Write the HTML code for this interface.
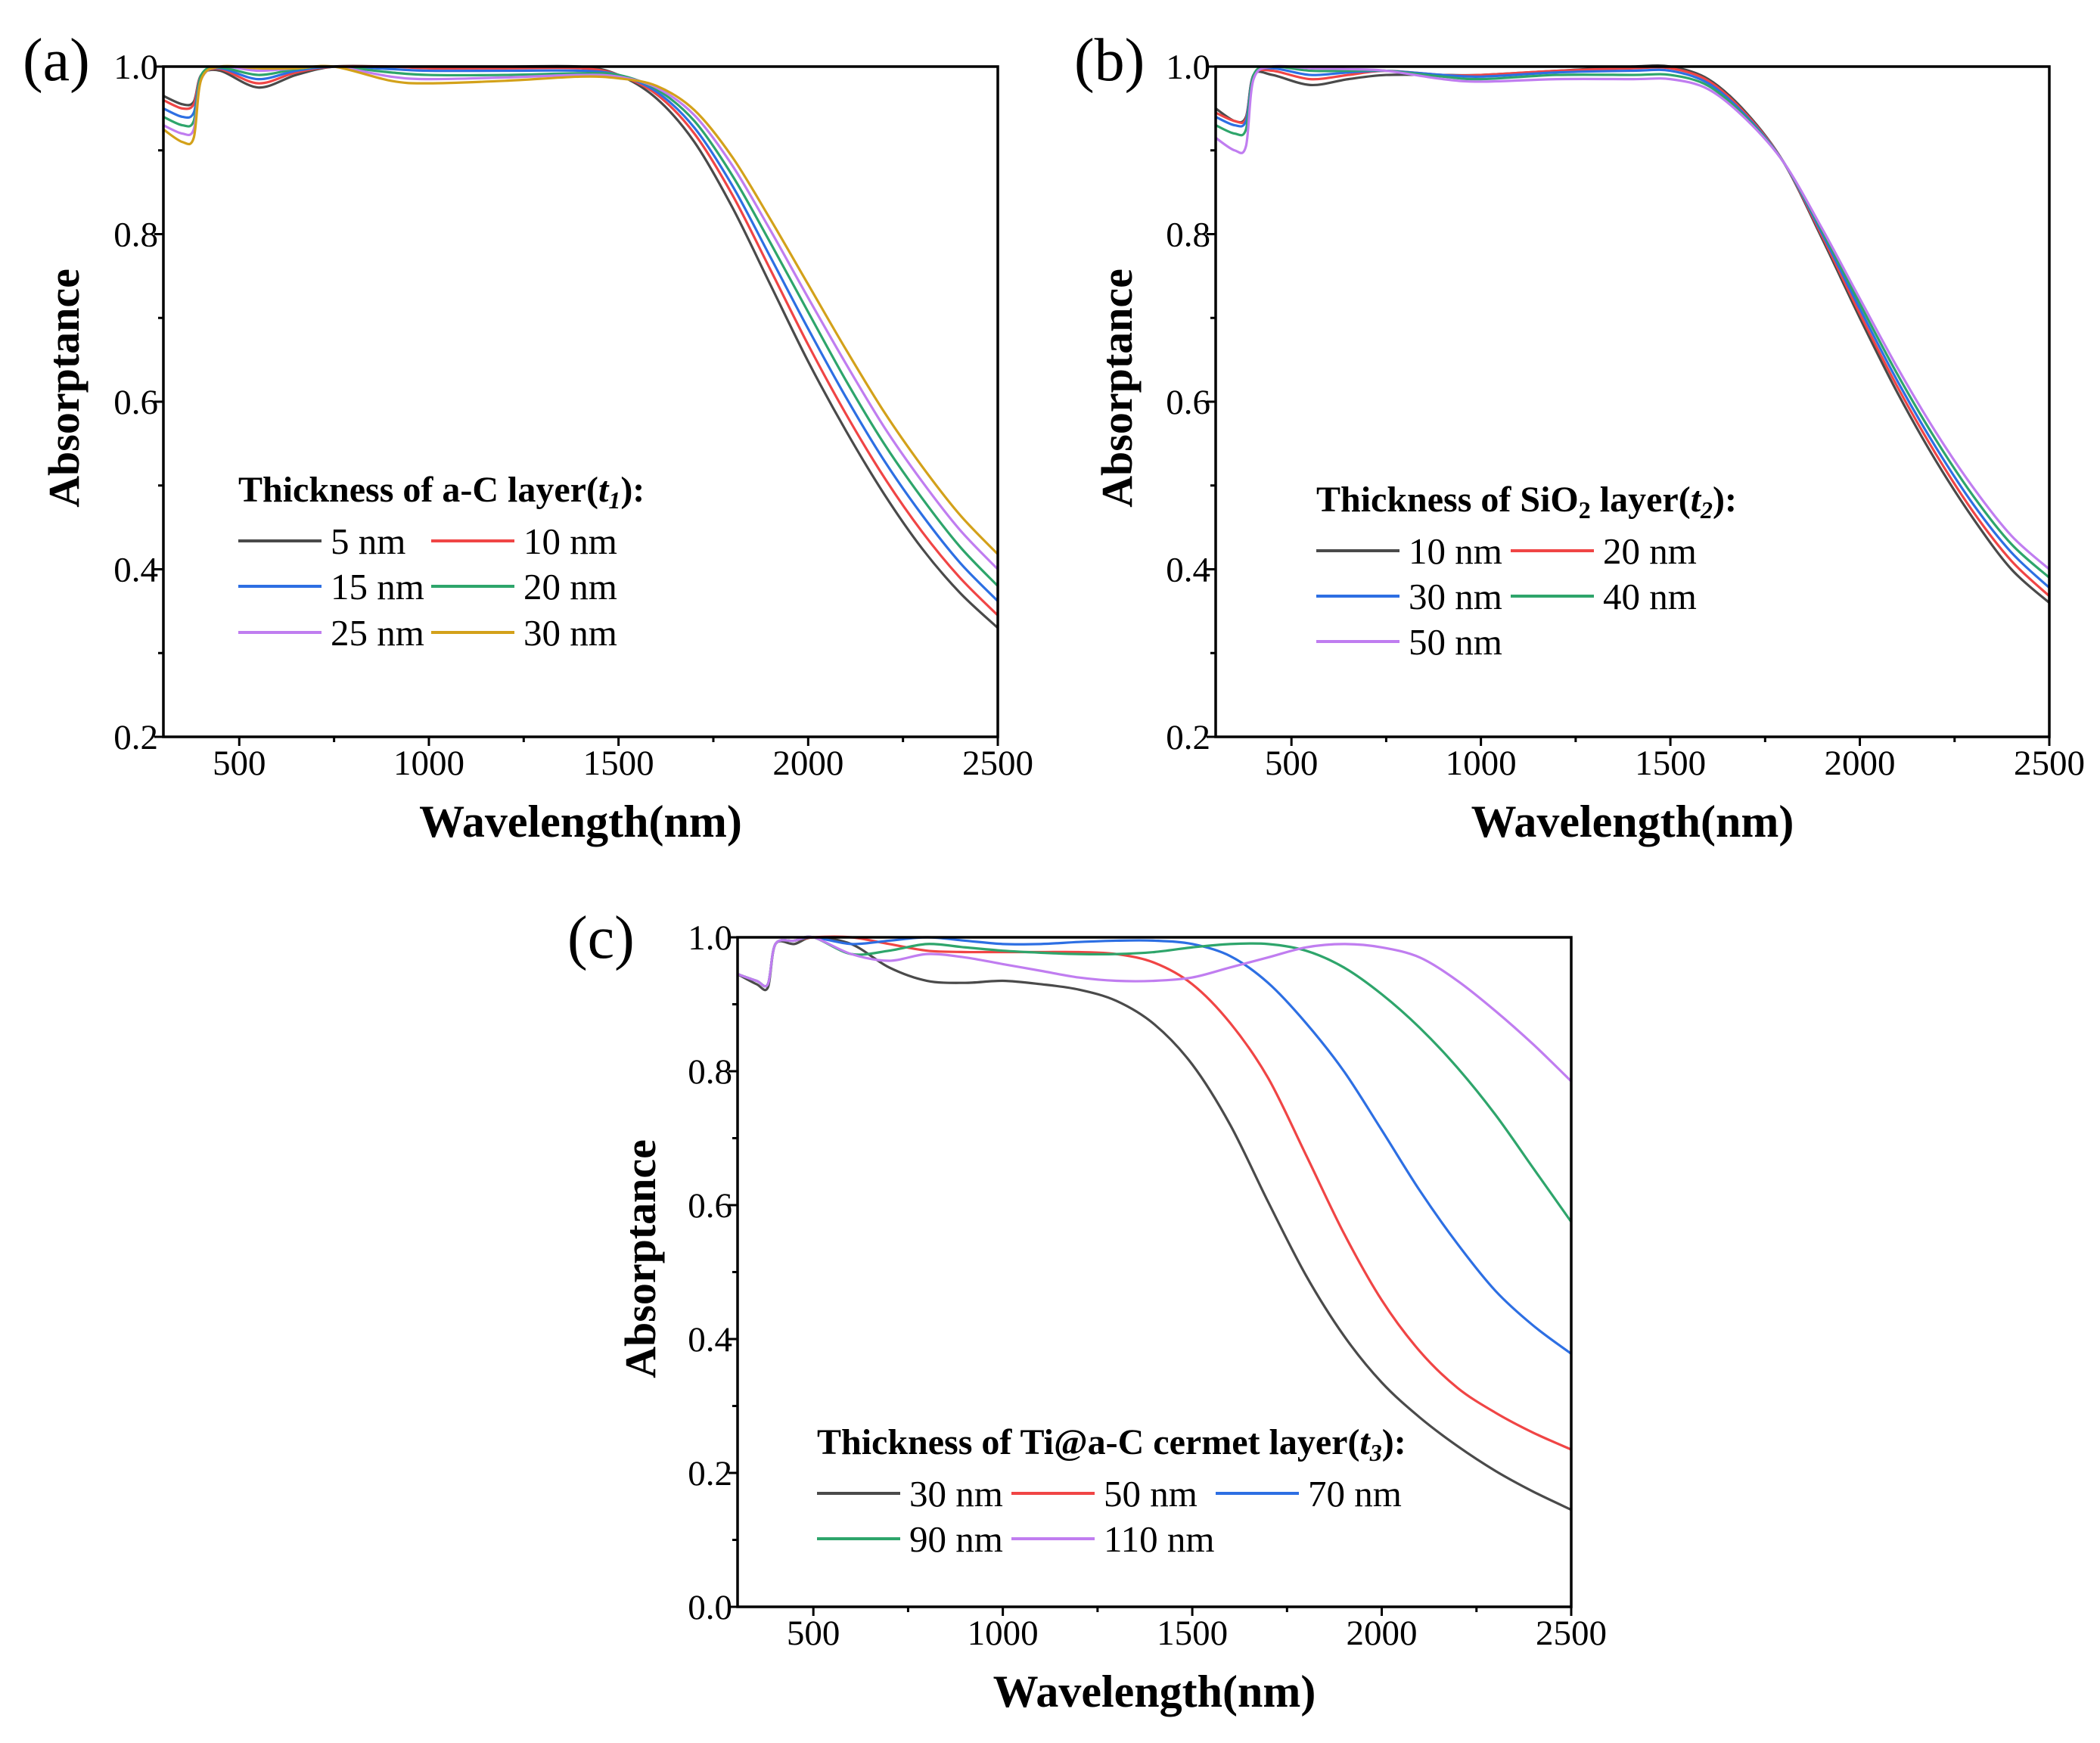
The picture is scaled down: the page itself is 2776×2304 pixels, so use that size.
<!DOCTYPE html>
<html><head><meta charset="utf-8"><style>
html,body{margin:0;padding:0;background:#fff;}
svg{display:block;font-family:"Liberation Serif",serif;}
</style></head><body>
<svg id="fig" width="2776" height="2304" viewBox="0 0 2776 2304" xmlns="http://www.w3.org/2000/svg"></svg>
<script>
// ---------- data ----------
const wlAB = [300,350,380,400,450,550,650,750,900,1000,1200,1400,1500,1600,1700,1800,1900,2000,2100,2200,2300,2400,2500];
const aLabels = ["5 nm","10 nm","15 nm","20 nm","25 nm","30 nm"];
const a5  = [.965,.955,.958,.99,.995,.975,.99,1,1,1,1,1,.99,.962,.91,.832,.74,.648,.565,.49,.425,.372,.33];
const a10 = [.96,.95,.955,.99,.997,.98,.993,1,1,.998,.998,.998,.99,.967,.92,.847,.758,.668,.585,.51,.445,.39,.345];
const a15 = [.95,.94,.945,.99,.998,.985,.995,1,.997,.995,.995,.995,.99,.97,.927,.858,.773,.687,.605,.53,.465,.408,.362];
const a20 = [.94,.93,.935,.99,.999,.99,.997,1,.993,.99,.99,.992,.99,.973,.935,.87,.79,.707,.625,.55,.485,.427,.38];
const a25 = [.93,.92,.925,.985,1,.995,.998,1,.988,.985,.987,.99,.988,.975,.942,.882,.805,.724,.645,.57,.505,.447,.40];
const a30 = [.925,.91,.915,.985,1,.998,.998,1,.983,.98,.983,.988,.986,.977,.948,.892,.818,.74,.662,.588,.523,.465,.418];
const bLabels = ["10 nm","20 nm","30 nm","40 nm","50 nm"];
const b10 = [.95,.935,.94,.99,.99,.978,.985,.99,.99,.99,.995,1,1,.985,.945,.885,.795,.70,.61,.53,.46,.40,.36];
const b20 = [.945,.935,.938,.99,.995,.985,.99,.995,.99,.99,.995,.998,.998,.983,.943,.885,.798,.705,.617,.538,.468,.41,.368];
const b30 = [.94,.93,.935,.99,.998,.99,.993,.995,.99,.988,.993,.995,.995,.98,.941,.885,.801,.711,.624,.546,.477,.42,.378];
const b40 = [.93,.92,.925,.99,1,.995,.995,.995,.988,.985,.99,.99,.99,.977,.939,.885,.804,.717,.632,.555,.487,.43,.39];
const b50 = [.915,.90,.905,.985,1,.998,.997,.995,.985,.982,.985,.985,.985,.973,.937,.885,.807,.723,.64,.564,.497,.44,.40];
const wlC = [300,350,380,400,450,500,600,700,800,900,1000,1100,1200,1300,1400,1500,1600,1700,1800,1900,2000,2100,2200,2300,2400,2500];
const cLabels = ["30 nm","50 nm","70 nm","90 nm","110 nm"];
const c30  = [.945,.93,.925,.99,.99,1,.99,.955,.935,.932,.935,.93,.922,.905,.87,.81,.72,.605,.495,.405,.335,.283,.24,.203,.172,.145];
const c50  = [.945,.935,.93,.99,.995,1,1,.99,.98,.978,.978,.978,.978,.975,.962,.93,.872,.79,.675,.558,.458,.382,.327,.29,.26,.235];
const c70  = [.945,.935,.93,.99,.995,1,.99,.995,1,.995,.99,.99,.993,.995,.995,.99,.972,.932,.872,.80,.712,.622,.542,.472,.42,.378];
const c90  = [.945,.935,.93,.99,.995,1,.975,.98,.99,.985,.98,.977,.975,.975,.978,.985,.99,.99,.98,.955,.915,.865,.805,.735,.655,.575];
const c110 = [.945,.935,.93,.99,.995,1,.975,.965,.975,.97,.96,.95,.94,.935,.935,.94,.955,.97,.985,.99,.985,.97,.935,.89,.84,.785];
const xTicks = [500,1000,1500,2000,2500];
const yTicksAB = [0.2,0.4,0.6,0.8,1.0];
const yTicksC = [0.0,0.2,0.4,0.6,0.8,1.0];
const colorsA = ["#4a4a4a","#f04545","#2d6fe3","#2ea56b","#c07df0","#d3a11a"];
const colorsBC = ["#4a4a4a","#f04545","#2d6fe3","#2ea56b","#c07df0"];

const NS="http://www.w3.org/2000/svg";
const svg=document.getElementById('fig');
function mk(tag,attrs,parent){const e=document.createElementNS(NS,tag);for(const k in attrs)e.setAttribute(k,attrs[k]);(parent||svg).appendChild(e);return e;}
function smooth(pts){let d=`M${pts[0][0]},${pts[0][1]}`;for(let i=0;i<pts.length-1;i++){const p0=pts[Math.max(0,i-1)],p1=pts[i],p2=pts[i+1],p3=pts[Math.min(pts.length-1,i+2)];const t=0.16;const c1=[p1[0]+(p2[0]-p0[0])*t,p1[1]+(p2[1]-p0[1])*t];const c2=[p2[0]-(p3[0]-p1[0])*t,p2[1]-(p3[1]-p1[1])*t];d+=` C${c1[0]},${c1[1]} ${c2[0]},${c2[1]} ${p2[0]},${p2[1]}`;}return d;}

function panel(o){
  const g=mk('g',{});
  
  
  const X=v=>o.L+(v-300)/2200*(o.R-o.L);
  const Y=v=>o.B-(v-o.ymin)/(1-o.ymin)*(o.B-o.T);
  for(let v=750;v<=2500;v+=250){const major=v%500===0;const t=mk('line',{x1:X(v),x2:X(v),y1:o.B,y2:o.B+(major?12:7),stroke:'#000','stroke-width':3},g);}
  {const t=mk('line',{x1:X(500),x2:X(500),y1:o.B,y2:o.B+12,stroke:'#000','stroke-width':3},g);}
  for(let v=o.ymin;v<=1.0001;v+=0.1){const major=Math.round(v*10)%2===0;const t=mk('line',{x1:o.L-(major?12:7),x2:o.L,y1:Y(v),y2:Y(v),stroke:'#000','stroke-width':3},g);}
  xTicks.forEach(v=>{const t=mk('text',{x:X(v),y:o.B+50,'font-size':47,'text-anchor':'middle'},g);t.textContent=v;});
  o.yTicks.forEach(v=>{const t=mk('text',{x:o.L-7,y:Y(v)+16,'font-size':47,'text-anchor':'end'},g);t.textContent=v.toFixed(1);});
  o.series.forEach((s,i)=>{const p=mk('path',{d:smooth(o.wl.map((w,j)=>[X(w),Y(s[j])])),fill:'none',stroke:o.colors[i],'stroke-width':3.2},g);});
  const f=mk('rect',{x:o.L,y:o.T,width:o.R-o.L,height:o.B-o.T,fill:'none',stroke:'#000','stroke-width':3.5},g);
  
  const pl=mk('text',{x:o.plx,y:o.ply,'font-size':80},g);pl.textContent=o.pl;
  const xt=mk('text',{x:(o.L+o.R)/2,y:o.B+132,'font-size':60,'font-weight':'bold','text-anchor':'middle'},g);xt.textContent='Wavelength(nm)';
  const yt=mk('text',{x:0,y:0,'font-size':58,'font-weight':'bold','text-anchor':'middle',transform:`translate(${o.ylx},${o.yly}) rotate(-90)`},g);yt.textContent='Absorptance';
  const lt=mk('text',{x:o.lg.x,y:o.lg.y+17,'font-size':48,'font-weight':'bold'},g);
  lt.innerHTML=o.lg.title;
  
  o.labels.forEach((lab,i)=>{const r=Math.floor(i/o.lg.cols),c=i%o.lg.cols;const x0=o.lg.cx[c],y0=o.lg.ry[r];
    const ln=mk('line',{x1:x0,x2:x0+110,y1:y0,y2:y0,stroke:o.colors[i],'stroke-width':4},g);
    const tx=mk('text',{x:x0+122,y:y0+17,'font-size':49},g);tx.textContent=lab;});
}
panel({name:'panel-a',L:216,R:1319,T:88,B:974,ymin:0.2,yTicks:yTicksAB,wl:wlAB,series:[a5,a10,a15,a20,a25,a30],labels:aLabels,colors:colorsA,
  pl:'(a)',plx:30,ply:106,ylx:104,yly:513,
  lg:{x:315,y:646,title:'Thickness of a-C layer(<tspan font-style="italic">t</tspan><tspan font-style="italic" font-size="32" dy="9">1</tspan><tspan dy="-9">):</tspan>',cols:2,cx:[315,570],ry:[715,775,836]}});
panel({name:'panel-b',L:1607,R:2709,T:88,B:974,ymin:0.2,yTicks:yTicksAB,wl:wlAB,series:[b10,b20,b30,b40,b50],labels:bLabels,colors:colorsBC,
  pl:'(b)',plx:1420,ply:106,ylx:1496,yly:513,
  lg:{x:1740,y:659,title:'Thickness of SiO<tspan font-size="32" dy="9">2</tspan><tspan dy="-9"> layer(</tspan><tspan font-style="italic">t</tspan><tspan font-style="italic" font-size="32" dy="9">2</tspan><tspan dy="-9">):</tspan>',cols:2,cx:[1740,1997],ry:[728,788,848]}});
panel({name:'panel-c',L:975,R:2077,T:1239,B:2124,ymin:0.0,yTicks:yTicksC,wl:wlC,series:[c30,c50,c70,c90,c110],labels:cLabels,colors:colorsBC,
  pl:'(c)',plx:750,ply:1266,ylx:866,yly:1664,
  lg:{x:1080,y:1905,title:'Thickness of Ti@a-C cermet layer(<tspan font-style="italic">t</tspan><tspan font-style="italic" font-size="32" dy="9">3</tspan><tspan dy="-9">):</tspan>',cols:3,cx:[1080,1337,1607],ry:[1974,2034]}});
</script>
</body></html>
